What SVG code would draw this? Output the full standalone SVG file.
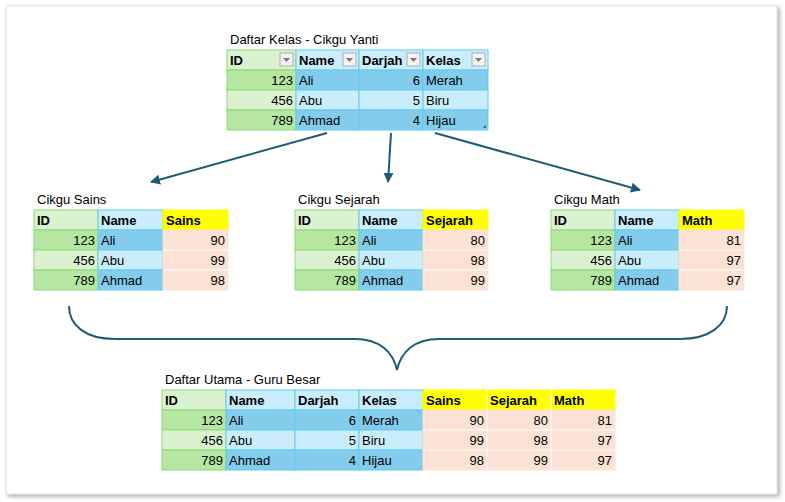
<svg xmlns="http://www.w3.org/2000/svg" width="785" height="502" viewBox="0 0 785 502">
<defs>
<style>
text{font-family:"Liberation Sans",Arial,sans-serif;font-size:13px;fill:#000}
.h{font-weight:bold}
.r{text-anchor:end}
.g1{fill:#DAF2D0;stroke:#8ED973}
.g2{fill:#B5E6A2;stroke:#8ED973}
.b1{fill:#CAEDFB;stroke:#61CBF3}
.b2{fill:#83CCEB;stroke:#61CBF3}
.y{fill:#FFFF00;stroke:#FFFF00}
.p{fill:#FBE2D5;stroke:#FBE2D5}
.btn{fill:#F3F3F3;stroke:#ABABAB}
.con{fill:none;stroke:#1D5B79;stroke-width:2}
</style>
<marker id="ah" viewBox="0 0 10 10" refX="9" refY="5" markerWidth="5" markerHeight="5" orient="auto"><path d="M0,0L10,5L0,10z" fill="#1D5B79"/></marker>
<filter id="sh"><feDropShadow dx="2" dy="2" stdDeviation="2" flood-color="#000" flood-opacity="0.35"/></filter>
</defs>
<rect x="6" y="6" width="771" height="488" fill="#fff" stroke="#ddd" filter="url(#sh)"/>

<g id="top">
<text x="230" y="44">Daftar Kelas - Cikgu Yanti</text>
<rect class="g1" x="227" y="50" width="69" height="20"/><rect class="b1" x="296" y="50" width="63" height="20"/><rect class="b1" x="359" y="50" width="64" height="20"/><rect class="b1" x="423" y="50" width="65" height="20"/>
<rect class="g2" x="227" y="70" width="69" height="20"/><rect class="b2" x="296" y="70" width="63" height="20"/><rect class="b2" x="359" y="70" width="64" height="20"/><rect class="b2" x="423" y="70" width="65" height="20"/>
<rect class="g1" x="227" y="90" width="69" height="20"/><rect class="b1" x="296" y="90" width="63" height="20"/><rect class="b1" x="359" y="90" width="64" height="20"/><rect class="b1" x="423" y="90" width="65" height="20"/>
<rect class="g2" x="227" y="110" width="69" height="20"/><rect class="b2" x="296" y="110" width="63" height="20"/><rect class="b2" x="359" y="110" width="64" height="20"/><rect class="b2" x="423" y="110" width="65" height="20"/>
<g class="btn"><rect x="280" y="53" width="13" height="13"/><rect x="343" y="53" width="13" height="13"/><rect x="407" y="53" width="13" height="13"/><rect x="472" y="53" width="13" height="13"/></g>
<g fill="#777"><path d="M283,58h7l-3.5,4z"/><path d="M346,58h7l-3.5,4z"/><path d="M410,58h7l-3.5,4z"/><path d="M475,58h7l-3.5,4z"/></g>
<path d="M483,128h3v-3z" fill="#555"/>
<text class="h" x="230" y="65">ID</text><text class="h" x="299" y="65">Name</text><text class="h" x="362" y="65">Darjah</text><text class="h" x="426" y="65">Kelas</text>
<text class="r" x="293" y="85">123</text><text x="299" y="85">Ali</text><text class="r" x="420" y="85">6</text><text x="426" y="85">Merah</text>
<text class="r" x="293" y="105">456</text><text x="299" y="105">Abu</text><text class="r" x="420" y="105">5</text><text x="426" y="105">Biru</text>
<text class="r" x="293" y="125">789</text><text x="299" y="125">Ahmad</text><text class="r" x="420" y="125">4</text><text x="426" y="125">Hijau</text>
</g>

<g id="sains">
<text x="37" y="204">Cikgu Sains</text>
<rect class="g1" x="34" y="210" width="64" height="20"/><rect class="b1" x="98" y="210" width="65" height="20"/><rect class="y" x="163" y="210" width="65" height="20"/>
<rect class="g2" x="34" y="230" width="64" height="20"/><rect class="b2" x="98" y="230" width="65" height="20"/><rect class="p" x="163" y="230" width="65" height="20"/>
<rect class="g1" x="34" y="250" width="64" height="20"/><rect class="b1" x="98" y="250" width="65" height="20"/><rect class="p" x="163" y="250" width="65" height="20"/>
<rect class="g2" x="34" y="270" width="64" height="20"/><rect class="b2" x="98" y="270" width="65" height="20"/><rect class="p" x="163" y="270" width="65" height="20"/>
<line x1="163" y1="250" x2="228" y2="250" stroke="#fff"/><line x1="163" y1="270" x2="228" y2="270" stroke="#fff"/>
<text class="h" x="37" y="225">ID</text><text class="h" x="101" y="225">Name</text><text class="h" x="166" y="225">Sains</text>
<text class="r" x="95" y="245">123</text><text x="101" y="245">Ali</text><text class="r" x="225" y="245">90</text>
<text class="r" x="95" y="265">456</text><text x="101" y="265">Abu</text><text class="r" x="225" y="265">99</text>
<text class="r" x="95" y="285">789</text><text x="101" y="285">Ahmad</text><text class="r" x="225" y="285">98</text>
</g>

<g id="sejarah">
<text x="298" y="204">Cikgu Sejarah</text>
<rect class="g1" x="295" y="210" width="64" height="20"/><rect class="b1" x="359" y="210" width="64" height="20"/><rect class="y" x="423" y="210" width="65" height="20"/>
<rect class="g2" x="295" y="230" width="64" height="20"/><rect class="b2" x="359" y="230" width="64" height="20"/><rect class="p" x="423" y="230" width="65" height="20"/>
<rect class="g1" x="295" y="250" width="64" height="20"/><rect class="b1" x="359" y="250" width="64" height="20"/><rect class="p" x="423" y="250" width="65" height="20"/>
<rect class="g2" x="295" y="270" width="64" height="20"/><rect class="b2" x="359" y="270" width="64" height="20"/><rect class="p" x="423" y="270" width="65" height="20"/>
<line x1="423" y1="250" x2="488" y2="250" stroke="#fff"/><line x1="423" y1="270" x2="488" y2="270" stroke="#fff"/>
<text class="h" x="298" y="225">ID</text><text class="h" x="362" y="225">Name</text><text class="h" x="426" y="225">Sejarah</text>
<text class="r" x="356" y="245">123</text><text x="362" y="245">Ali</text><text class="r" x="485" y="245">80</text>
<text class="r" x="356" y="265">456</text><text x="362" y="265">Abu</text><text class="r" x="485" y="265">98</text>
<text class="r" x="356" y="285">789</text><text x="362" y="285">Ahmad</text><text class="r" x="485" y="285">99</text>
</g>

<g id="math">
<text x="554" y="204">Cikgu Math</text>
<rect class="g1" x="551" y="210" width="64" height="20"/><rect class="b1" x="615" y="210" width="64" height="20"/><rect class="y" x="679" y="210" width="65" height="20"/>
<rect class="g2" x="551" y="230" width="64" height="20"/><rect class="b2" x="615" y="230" width="64" height="20"/><rect class="p" x="679" y="230" width="65" height="20"/>
<rect class="g1" x="551" y="250" width="64" height="20"/><rect class="b1" x="615" y="250" width="64" height="20"/><rect class="p" x="679" y="250" width="65" height="20"/>
<rect class="g2" x="551" y="270" width="64" height="20"/><rect class="b2" x="615" y="270" width="64" height="20"/><rect class="p" x="679" y="270" width="65" height="20"/>
<line x1="679" y1="250" x2="744" y2="250" stroke="#fff"/><line x1="679" y1="270" x2="744" y2="270" stroke="#fff"/>
<text class="h" x="554" y="225">ID</text><text class="h" x="618" y="225">Name</text><text class="h" x="682" y="225">Math</text>
<text class="r" x="612" y="245">123</text><text x="618" y="245">Ali</text><text class="r" x="741" y="245">81</text>
<text class="r" x="612" y="265">456</text><text x="618" y="265">Abu</text><text class="r" x="741" y="265">97</text>
<text class="r" x="612" y="285">789</text><text x="618" y="285">Ahmad</text><text class="r" x="741" y="285">97</text>
</g>

<g id="utama">
<text x="165" y="384">Daftar Utama - Guru Besar</text>
<rect class="g1" x="162" y="390" width="64" height="20"/><rect class="b1" x="226" y="390" width="69" height="20"/><rect class="b1" x="295" y="390" width="64" height="20"/><rect class="b1" x="359" y="390" width="64" height="20"/><rect class="y" x="423" y="390" width="192" height="20"/>
<rect class="g2" x="162" y="410" width="64" height="20"/><rect class="b2" x="226" y="410" width="69" height="20"/><rect class="b2" x="295" y="410" width="64" height="20"/><rect class="b2" x="359" y="410" width="64" height="20"/>
<rect class="g1" x="162" y="430" width="64" height="20"/><rect class="b1" x="226" y="430" width="69" height="20"/><rect class="b1" x="295" y="430" width="64" height="20"/><rect class="b1" x="359" y="430" width="64" height="20"/>
<rect class="g2" x="162" y="450" width="64" height="20"/><rect class="b2" x="226" y="450" width="69" height="20"/><rect class="b2" x="295" y="450" width="64" height="20"/><rect class="b2" x="359" y="450" width="64" height="20"/>
<rect class="p" x="423" y="410" width="192" height="60"/>
<g stroke="#fff"><line x1="423" y1="430" x2="615" y2="430"/><line x1="423" y1="450" x2="615" y2="450"/><line x1="487" y1="390" x2="487" y2="470"/><line x1="551" y1="390" x2="551" y2="470"/></g>
<text class="h" x="165" y="405">ID</text><text class="h" x="229" y="405">Name</text><text class="h" x="298" y="405">Darjah</text><text class="h" x="362" y="405">Kelas</text><text class="h" x="426" y="405">Sains</text><text class="h" x="490" y="405">Sejarah</text><text class="h" x="554" y="405">Math</text>
<text class="r" x="223" y="425">123</text><text x="229" y="425">Ali</text><text class="r" x="356" y="425">6</text><text x="362" y="425">Merah</text><text class="r" x="484" y="425">90</text><text class="r" x="548" y="425">80</text><text class="r" x="612" y="425">81</text>
<text class="r" x="223" y="445">456</text><text x="229" y="445">Abu</text><text class="r" x="356" y="445">5</text><text x="362" y="445">Biru</text><text class="r" x="484" y="445">99</text><text class="r" x="548" y="445">98</text><text class="r" x="612" y="445">97</text>
<text class="r" x="223" y="465">789</text><text x="229" y="465">Ahmad</text><text class="r" x="356" y="465">4</text><text x="362" y="465">Hijau</text><text class="r" x="484" y="465">98</text><text class="r" x="548" y="465">99</text><text class="r" x="612" y="465">97</text>
</g>

<g id="connectors">
<line class="con" x1="327" y1="133" x2="151" y2="182" marker-end="url(#ah)"/>
<line class="con" x1="391" y1="133" x2="388" y2="182" marker-end="url(#ah)"/>
<line class="con" x1="435" y1="133" x2="640" y2="190" marker-end="url(#ah)"/>
<path class="con" d="M69,306C69,325 85,339 115,339H355C380,339 393,352 397,370C401,352 414,339 439,339H680C710,339 727,325 727,306"/>
</g>
</svg>
